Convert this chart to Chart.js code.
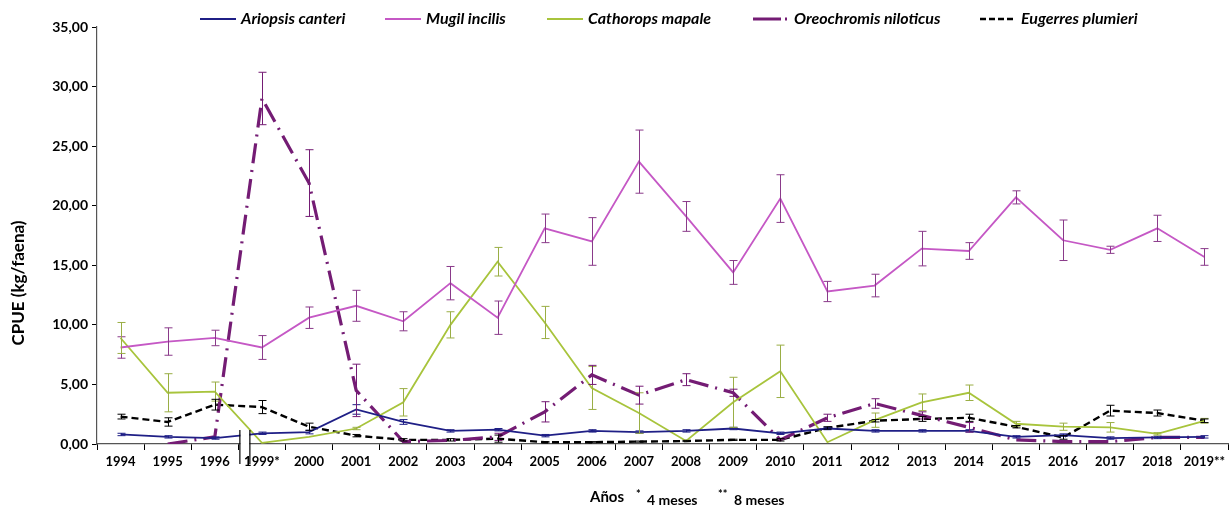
<!DOCTYPE html>
<html>
<head>
<meta charset="utf-8">
<script src="https://cdn.jsdelivr.net/npm/chart.js@4.4.1/dist/chart.umd.min.js"></script>
<style>
  html, body { margin: 0; padding: 0; background: #fff; }
  #wrap { width: 1230px; height: 508px; }
</style>
</head>
<body>
<div id="wrap"><canvas id="cpueChart" width="1230" height="508"></canvas></div>
<script>
// --- Datos ---
const years = ['1994', '1995', '1996', '1999*', '2000', '2001', '2002', '2003', '2004', '2005', '2006', '2007',
    '2008', '2009', '2010', '2011', '2012', '2013', '2014', '2015', '2016', '2017', '2018', '2019**'];
const yTicks = [0, 5, 10, 15, 20, 25, 30, 35];

const ariopsis = [0.8, 0.6, 0.5, 0.9, 1.0, 2.9, 1.85, 1.1, 1.2, 0.7, 1.1, 1.0, 1.1, 1.3, 0.9, 1.3, 1.1, 1.1, 1.1, 0.6, 0.75, 0.5, 0.55, 0.6];
const ariopsisErr = [0.1, 0.1, 0.1, 0.1, 0.15, 0.4, 0.2, 0.1, 0.1, 0.1, 0.1, 0.1, 0.1, 0.1, 0.1, 0.1, 0.1, 0.1, 0.1, 0.1, 0.1, 0.1, 0.1, 0.1];

const mugil = [8.1, 8.6, 8.9, 8.1, 10.6, 11.6, 10.3, 13.5, 10.6, 18.1, 17.0, 23.7, 19.1, 14.4, 20.6, 12.8, 13.3, 16.4, 16.2, 20.7, 17.1, 16.3, 18.1, 15.7];
const mugilErr = [0.9, 1.15, 0.65, 1.0, 0.9, 1.3, 0.8, 1.4, 1.4, 1.2, 2.0, 2.65, 1.25, 1.0, 2.0, 0.85, 0.95, 1.45, 0.7, 0.55, 1.7, 0.3, 1.1, 0.7];

const cathorops = [8.9, 4.3, 4.4, 0.1, 0.6, 1.3, 3.5, 10.0, 15.3, 10.2, 4.7, 2.6, 0.25, 3.5, 6.1, 0.15, 2.0, 3.5, 4.3, 1.7, 1.45, 1.4, 0.85, 1.95];
const cathoropsErr = [1.3, 1.6, 0.8, 0, 0, 0.1, 1.15, 1.1, 1.2, 1.35, 1.8, 1.7, 0, 2.1, 2.2, 0, 0.6, 0.7, 0.65, 0.2, 0.3, 0.4, 0.1, 0.2];

const oreochromis = [null, 0.0, 0.6, 29.0, 21.9, 4.5, 0.2, 0.3, 0.6, 2.7, 5.8, 4.1, 5.4, 4.3, 0.35, 2.2, 3.4, 2.4, 1.4, 0.35, 0.2, 0.2, 0.55, 0.55];
const oreochromisErr = [0, 0, 0, 2.2, 2.8, 2.2, 0, 0, 0.3, 0.85, 0.8, 0.75, 0.5, 0.3, 0, 0.3, 0.4, 0.3, 0.4, 0, 0, 0, 0, 0];

const eugerres = [2.3, 1.85, 3.3, 3.1, 1.45, 0.7, 0.35, 0.35, 0.45, 0.15, 0.15, 0.2, 0.25, 0.35, 0.35, 1.35, 1.95, 2.1, 2.2, 1.45, 0.55, 2.8, 2.6, 1.95];
const eugerresErr = [0.2, 0.35, 0.45, 0.55, 0.3, 0.1, 0.1, 0.1, 0.3, 0.05, 0.05, 0.05, 0.05, 0.05, 0.1, 0.1, 0.1, 0.2, 0.3, 0.1, 0.15, 0.45, 0.25, 0.15];

const FONT = 'Lato, "Open Sans", sans-serif';
Chart.defaults.font.family = FONT;
Chart.defaults.color = '#000';

// --- Barras de error ---
const errorBars = {
    id: 'errorBars',
    afterDatasetsDraw(chart) {
        const ctx = chart.ctx;
        const yScale = chart.scales.y;
        chart.data.datasets.forEach((ds, i) => {
            const meta = chart.getDatasetMeta(i);
            ctx.save();
            ctx.strokeStyle = ds.errColor || ds.borderColor;
            ctx.lineWidth = 1;
            meta.data.forEach((pt, j) => {
                const v = ds.data[j];
                const e = ds.err[j];
                if (v === null || !e) return;
                const x = Math.round(pt.x) + 0.5;
                const yTop = yScale.getPixelForValue(v + e);
                const yBot = yScale.getPixelForValue(Math.max(v - e, 0));
                ctx.beginPath();
                ctx.moveTo(x, yTop); ctx.lineTo(x, yBot);
                ctx.moveTo(x - 4, yTop); ctx.lineTo(x + 4, yTop);
                ctx.moveTo(x - 4, yBot); ctx.lineTo(x + 4, yBot);
                ctx.stroke();
            });
            ctx.restore();
        });
    }
};

// --- Corte del eje entre 1996 y 1999 ---
const axisBreak = {
    id: 'axisBreak',
    afterDraw(chart) {
        const ctx = chart.ctx;
        const x = chart.scales.x;
        const b = (x.getPixelForValue(2) + x.getPixelForValue(3)) / 2;
        const yAxis = chart.scales.y.getPixelForValue(0);
        ctx.save();
        ctx.fillStyle = '#fff';
        ctx.fillRect(b + 2, yAxis - 14, 9, 20);
        ctx.strokeStyle = '#000';
        ctx.lineWidth = 1.2;
        ctx.beginPath();
        ctx.moveTo(b + 1.5, yAxis - 14); ctx.lineTo(b + 1.5, yAxis + 20);
        ctx.moveTo(b + 11.5, yAxis - 14); ctx.lineTo(b + 11.5, yAxis + 20);
        ctx.stroke();
        ctx.restore();
    }
};

// --- Leyenda, títulos de ejes ---
const legendX = [200, 385, 547, 753, 980];
const customText = {
    id: 'customText',
    afterDraw(chart) {
        const ctx = chart.ctx;
        ctx.save();
        // leyenda
        ctx.font = 'italic bold 16px ' + FONT;
        ctx.textBaseline = 'middle';
        ctx.textAlign = 'left';
        const y = 19;
        chart.data.datasets.forEach((ds, i) => {
            const x = legendX[i];
            ctx.strokeStyle = ds.borderColor;
            ctx.lineWidth = ds.borderWidth;
            ctx.setLineDash(ds.legendDash || []);
            ctx.beginPath();
            ctx.moveTo(x, y); ctx.lineTo(x + (ds.legendLen || 36), y);
            ctx.stroke();
            ctx.setLineDash([]);
            ctx.fillStyle = '#000';
            ctx.fillText(ds.label, x + 41, y);
        });
        // título eje Y
        ctx.save();
        ctx.translate(19, 283);
        ctx.rotate(-Math.PI / 2);
        ctx.textAlign = 'center';
        ctx.font = 'bold 17px ' + FONT;
        ctx.fillText('CPUE (kg/faena)', 0, 0);
        ctx.restore();
        // título eje X
        ctx.textBaseline = 'alphabetic';
        ctx.textAlign = 'left';
        ctx.font = 'bold 15px ' + FONT;
        ctx.fillText('Años', 590, 502);
        ctx.font = 'bold 11px ' + FONT;
        ctx.fillText('*', 636, 498);
        ctx.fillText('**', 718, 498);
        ctx.font = 'bold 14px ' + FONT;
        ctx.fillText('4 meses', 647, 505);
        ctx.fillText('8 meses', 734, 505);
        ctx.restore();
    }
};

const ctx = document.getElementById('cpueChart').getContext('2d');
const cpueChart = new Chart(ctx, {
    type: 'line',
    data: {
        labels: years,
        datasets: [{
            label: 'Ariopsis canteri',
            data: ariopsis, err: ariopsisErr,
            borderColor: '#1f1f86',
            borderWidth: 1.8
        }, {
            label: 'Mugil incilis',
            data: mugil, err: mugilErr,
            borderColor: '#c558c5',
            errColor: '#8a3a8a',
            borderWidth: 1.8
        }, {
            label: 'Cathorops mapale',
            data: cathorops, err: cathoropsErr,
            borderColor: '#a8c43c',
            errColor: '#9aae45',
            borderWidth: 1.8
        }, {
            label: 'Oreochromis niloticus',
            data: oreochromis, err: oreochromisErr,
            borderColor: '#741c74',
            borderWidth: 3.2,
            borderDash: [20, 7, 2, 7],
            legendDash: [28, 4, 2, 40],
            legendLen: 34
        }, {
            label: 'Eugerres plumieri',
            data: eugerres, err: eugerresErr,
            borderColor: '#000',
            errColor: '#000',
            borderWidth: 2.4,
            borderDash: [7, 4],
            legendDash: [6, 3],
            legendLen: 34
        }]
    },
    options: {
        responsive: false,
        animation: false,
        spanGaps: false,
        elements: { point: { radius: 0, hoverRadius: 0 }, line: { tension: 0 } },
        layout: { padding: { top: 27, right: 2, left: 0, bottom: 0 } },
        plugins: {
            legend: { display: false },
            tooltip: { enabled: false }
        },
        scales: {
            x: {
                offset: true,
                grid: { display: true, offset: true, drawOnChartArea: false, drawTicks: true, tickLength: 6, color: '#000' },
                border: { color: '#555', width: 1.2 },
                ticks: { font: { size: 13, weight: 'bold' }, color: '#000', padding: 4, maxRotation: 0, autoSkip: false },
                afterFit(scale) { scale.height = 64; }
            },
            y: {
                min: 0, max: 35,
                afterBuildTicks(scale) { scale.ticks = yTicks.map(v => ({ value: v })); },
                grid: { display: true, drawOnChartArea: false, drawTicks: true, tickLength: 5, color: '#000' },
                border: { color: '#555', width: 1.2 },
                ticks: {
                    font: { size: 14, weight: 'bold' }, color: '#000', padding: 4,
                    callback: v => v.toFixed(2).replace('.', ',')
                },
                afterFit(scale) { scale.width = 97; }
            }
        }
    },
    plugins: [errorBars, axisBreak, customText]
});
</script>
</body>
</html>
